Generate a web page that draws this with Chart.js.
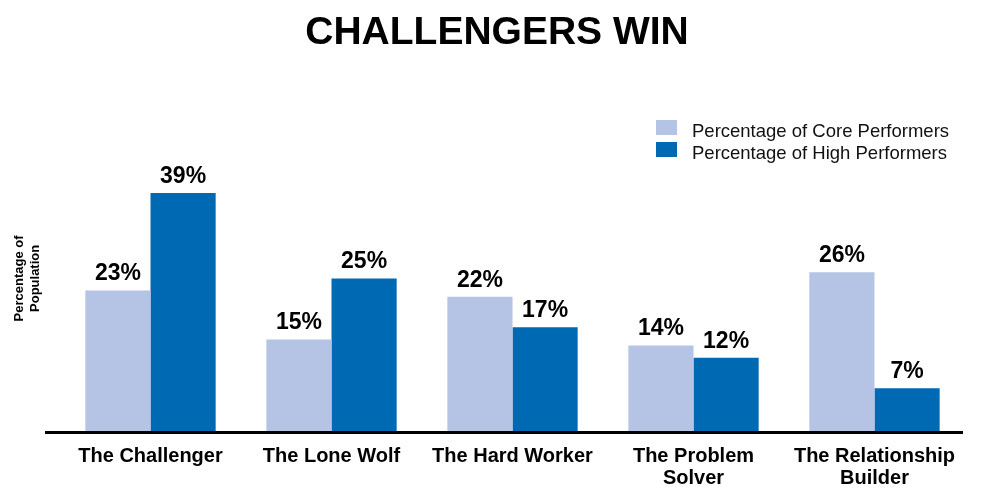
<!DOCTYPE html>
<html>
<head>
<meta charset="utf-8">
<script src="https://cdn.jsdelivr.net/npm/chart.js@4/dist/chart.umd.min.js"></script>
<style>
  html, body { margin: 0; padding: 0; background: #fff; }
  #wrap { width: 1000px; height: 500px; }
</style>
</head>
<body>
<div id="wrap"><canvas id="c" width="1000" height="500"></canvas></div>
<script>
const categories = [["The Challenger"], ["The Lone Wolf"], ["The Hard Worker"], ["The Problem", "Solver"], ["The Relationship", "Builder"]];
const seriesNames = ["Percentage of Core Performers", "Percentage of High Performers"];
const corePerformers = [23, 15, 22, 14, 26];
const highPerformers = [39, 25, 17, 12, 7];
const titleText = "CHALLENGERS WIN";
const yTitle = ["Percentage of", "Population"];

const FONT = "'Liberation Sans', Arial, Helvetica, sans-serif";
const LIGHT = "#B5C4E5";
const DARK = "#0069B4";

const valueLabels = {
  id: 'valueLabels',
  afterDatasetsDraw(chart) {
    const ctx = chart.ctx;
    ctx.save();
    ctx.font = "bold 23px " + FONT;
    ctx.fillStyle = "#000";
    ctx.textAlign = "center";
    ctx.textBaseline = "bottom";
    chart.data.datasets.forEach((ds, di) => {
      const meta = chart.getDatasetMeta(di);
      meta.data.forEach((bar, i) => {
        ctx.fillText(ds.data[i] + "%", bar.x, bar.y - 5);
      });
    });
    ctx.restore();
  }
};

const baseLine = {
  id: 'baseLine',
  afterDraw(chart) {
    const ctx = chart.ctx;
    const a = chart.chartArea;
    ctx.save();
    ctx.strokeStyle = "#000";
    ctx.lineWidth = 3;
    ctx.beginPath();
    ctx.moveTo(45, a.bottom + 1.5);
    ctx.lineTo(a.right - 2, a.bottom + 1.5);
    ctx.stroke();
    ctx.restore();
  }
};

const boxLegend = {
  id: 'boxLegend',
  afterDraw(chart) {
    const ctx = chart.ctx;
    ctx.save();
    ctx.font = "18.5px " + FONT;
    ctx.textBaseline = "middle";
    ctx.textAlign = "left";
    chart.data.datasets.forEach((ds, i) => {
      const y = 120 + i * 22;
      ctx.fillStyle = ds.backgroundColor;
      ctx.fillRect(656, y, 21, 15);
      ctx.fillStyle = "#111";
      ctx.fillText(ds.label, 692, y + 12);
    });
    ctx.restore();
  }
};

new Chart(document.getElementById('c'), {
  type: 'bar',
  data: {
    labels: categories,
    datasets: [
      { label: seriesNames[0], data: corePerformers, backgroundColor: LIGHT },
      { label: seriesNames[1], data: highPerformers, backgroundColor: DARK }
    ]
  },
  options: {
    responsive: false,
    animation: false,
    devicePixelRatio: 1,
    layout: { padding: { left: 29, right: 35, top: 0, bottom: 0 } },
    datasets: { bar: { categoryPercentage: 0.72, barPercentage: 1.0 } },
    plugins: {
      legend: { display: false },
      tooltip: { enabled: false },
      title: {
        display: true,
        text: titleText,
        color: "#000",
        font: { family: FONT, size: 39, weight: 'bold' },
        padding: { top: 10, bottom: 69 }
      }
    },
    scales: {
      x: {
        grid: { display: false, drawTicks: false },
        border: { display: false },
        afterFit(scale) { scale.height = 69; },
        ticks: {
          color: "#000",
          font: { family: FONT, size: 20, weight: 'bold', lineHeight: 1.1 },
          padding: 14,
          maxRotation: 0,
          autoSkip: false
        }
      },
      y: {
        min: 0,
        max: 50,
        grid: { display: false, drawTicks: false },
        border: { display: false },
        ticks: { display: false },
        afterFit(scale) { scale.width = 31; },
        title: {
          display: true,
          text: yTitle,
          color: "#000",
          font: { family: FONT, size: 13, weight: 'bold' },
          padding: { top: -17, bottom: 4 }
        }
      }
    }
  },
  plugins: [valueLabels, baseLine, boxLegend]
});
</script>
</body>
</html>
